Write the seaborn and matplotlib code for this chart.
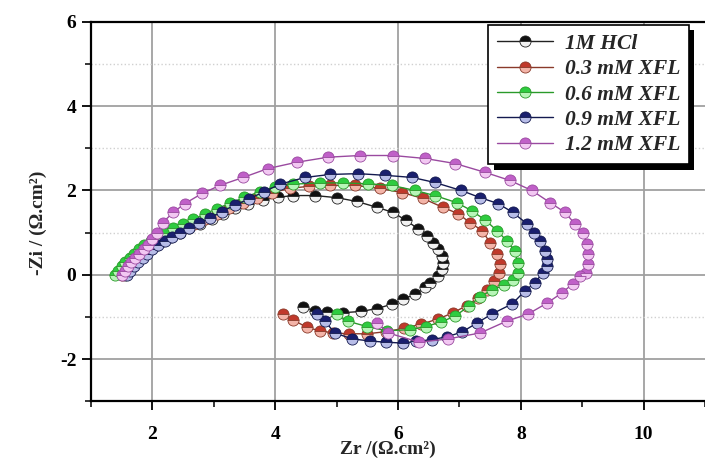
import matplotlib
matplotlib.use("Agg")
import matplotlib.pyplot as plt
import matplotlib.patheffects as pe
from matplotlib.ticker import MultipleLocator
import seaborn as sns
import pandas as pd

# Nyquist data: real part Zr and imaginary part -Zi (ohm.cm^2), in sweep order
zr_hcl = [1.55, 1.60, 1.66, 1.73, 1.80, 1.88, 1.97, 2.07, 2.18, 2.30, 2.45, 2.60, 2.78, 2.97,
          3.15, 3.35, 3.55, 3.80, 4.05, 4.29, 4.65, 5.00, 5.33, 5.66, 5.92, 6.13, 6.33, 6.47,
          6.57, 6.65, 6.72, 6.73, 6.72, 6.65, 6.52, 6.44, 6.28, 6.08, 5.90, 5.66, 5.40, 5.10,
          4.84, 4.65, 4.45]
zi_hcl = [0.00, 0.10, 0.20, 0.30, 0.40, 0.50, 0.60, 0.70, 0.80, 0.90, 1.00, 1.10, 1.20, 1.33,
          1.45, 1.58, 1.68, 1.78, 1.84, 1.88, 1.88, 1.83, 1.74, 1.60, 1.48, 1.29, 1.09, 0.93,
          0.76, 0.62, 0.45, 0.29, 0.14, -0.02, -0.19, -0.30, -0.46, -0.58, -0.70, -0.80, -0.87,
          -0.90, -0.88, -0.86, -0.76]

zr_03 = [1.50, 1.55, 1.61, 1.68, 1.75, 1.83, 1.92, 2.02, 2.12, 2.24, 2.37, 2.52, 2.68, 2.86,
         3.05, 3.25, 3.47, 3.70, 3.95, 4.24, 4.55, 4.89, 5.30, 5.70, 6.07, 6.41, 6.73, 6.98,
         7.17, 7.37, 7.50, 7.61, 7.66, 7.64, 7.57, 7.45, 7.30, 7.12, 6.90, 6.65, 6.38, 6.10,
         5.80, 5.50, 5.20, 4.95, 4.73, 4.52, 4.29, 4.13]
zi_03 = [0.00, 0.10, 0.20, 0.30, 0.40, 0.50, 0.60, 0.70, 0.80, 0.90, 1.00, 1.10, 1.20, 1.32,
         1.45, 1.58, 1.70, 1.82, 1.95, 2.05, 2.10, 2.12, 2.12, 2.05, 1.95, 1.81, 1.60, 1.45,
         1.24, 1.05, 0.76, 0.50, 0.26, 0.05, -0.15, -0.35, -0.55, -0.73, -0.90, -1.05, -1.17,
         -1.27, -1.35, -1.40, -1.40, -1.38, -1.33, -1.25, -1.07, -0.92]

zr_06 = [1.39, 1.44, 1.50, 1.56, 1.63, 1.70, 1.78, 1.87, 1.97, 2.08, 2.20, 2.34, 2.50, 2.67,
         2.85, 3.05, 3.27, 3.50, 3.75, 4.00, 4.29, 4.73, 5.10, 5.51, 5.90, 6.28, 6.60, 6.96,
         7.20, 7.42, 7.61, 7.77, 7.90, 7.95, 7.95, 7.88, 7.72, 7.53, 7.34, 7.15, 6.93, 6.70,
         6.45, 6.20, 5.82, 5.50, 5.18, 5.00]
zi_06 = [0.00, 0.10, 0.20, 0.30, 0.40, 0.50, 0.60, 0.70, 0.80, 0.90, 1.00, 1.10, 1.20, 1.32,
         1.44, 1.57, 1.70, 1.84, 1.97, 2.08, 2.15, 2.18, 2.18, 2.16, 2.12, 2.00, 1.88, 1.71,
         1.52, 1.30, 1.05, 0.81, 0.57, 0.29, 0.05, -0.12, -0.25, -0.36, -0.52, -0.75, -0.98,
         -1.12, -1.23, -1.30, -1.33, -1.23, -1.10, -0.93]

zr_09 = [1.59, 1.64, 1.70, 1.77, 1.84, 1.92, 2.00, 2.10, 2.20, 2.32, 2.45, 2.60, 2.76, 2.94,
         3.13, 3.34, 3.57, 3.82, 4.08, 4.49, 4.89, 5.35, 5.79, 6.23, 6.60, 7.03, 7.34, 7.63,
         7.87, 8.10, 8.22, 8.31, 8.39, 8.43, 8.42, 8.36, 8.23, 8.07, 7.86, 7.53, 7.28, 7.04,
         6.80, 6.55, 6.30, 6.08, 5.80, 5.54, 5.25, 4.97, 4.81, 4.68]
zi_09 = [0.00, 0.10, 0.20, 0.30, 0.40, 0.50, 0.60, 0.70, 0.80, 0.90, 1.00, 1.10, 1.22, 1.35,
         1.50, 1.65, 1.80, 1.97, 2.15, 2.31, 2.38, 2.40, 2.36, 2.31, 2.19, 2.00, 1.83, 1.69,
         1.48, 1.21, 1.00, 0.81, 0.57, 0.38, 0.20, 0.05, -0.19, -0.38, -0.69, -0.93, -1.15,
         -1.36, -1.47, -1.54, -1.58, -1.62, -1.60, -1.57, -1.52, -1.38, -1.10, -0.93]

zr_12 = [1.50, 1.55, 1.60, 1.66, 1.72, 1.79, 1.86, 1.93, 2.00, 2.08, 2.17, 2.34, 2.53, 2.81,
         3.10, 3.48, 3.88, 4.35, 4.86, 5.38, 5.92, 6.44, 6.93, 7.42, 7.82, 8.18, 8.48, 8.72,
         8.88, 9.01, 9.08, 9.10, 9.10, 9.07, 8.96, 8.85, 8.67, 8.43, 8.12, 7.77, 7.34, 6.82,
         6.35, 5.84, 5.66]
zi_12 = [0.00, 0.10, 0.20, 0.30, 0.40, 0.50, 0.60, 0.70, 0.85, 1.00, 1.24, 1.48, 1.69, 1.93,
         2.12, 2.31, 2.52, 2.67, 2.79, 2.83, 2.83, 2.76, 2.64, 2.43, 2.24, 2.00, 1.71, 1.48,
         1.21, 0.98, 0.74, 0.50, 0.26, 0.05, -0.02, -0.21, -0.43, -0.67, -0.93, -1.10, -1.38,
         -1.52, -1.60, -1.38, -1.14]

labels = ["1M HCl", "0.3 mM XFL", "0.6 mM XFL", "0.9 mM XFL", "1.2 mM XFL"]
series_zr = [zr_hcl, zr_03, zr_06, zr_09, zr_12]
series_zi = [zi_hcl, zi_03, zi_06, zi_09, zi_12]

# marker colours: upper half, lower half, connecting line
face_top = ["#111111", "#c0392b", "#2ecc40", "#1a1f6e", "#c060c8"]
face_low = ["#f2f2f2", "#f3b4a8", "#b8f5b8", "#b8bde8", "#f2c8f2"]
line_col = ["#222222", "#8a3a2a", "#2a9a2a", "#141a50", "#9a4aa0"]

sns.set_style("white")
plt.rcParams["font.family"] = ["Liberation Serif", "DejaVu Serif"]
plt.rcParams["axes.unicode_minus"] = False

fig = plt.figure(figsize=(7.05, 4.66), dpi=100)
ax = fig.add_axes([0.129, 0.139, 0.871, 0.814])

frames = []
for lab, xs, ys in zip(labels, series_zr, series_zi):
    frames.append(pd.DataFrame({"Zr": xs, "Zi": ys, "series": lab}))
df = pd.concat(frames, ignore_index=True)

handles = []
for i, lab in enumerate(labels):
    sub = df[df["series"] == lab]
    sns.lineplot(data=sub, x="Zr", y="Zi", sort=False, estimator=None, ax=ax,
                 color=line_col[i], lw=1.0, marker="o", markersize=8,
                 fillstyle="top", markerfacecolor=face_top[i],
                 markerfacecoloralt=face_low[i], markeredgecolor=line_col[i],
                 markeredgewidth=0.6, label=lab, legend=False, zorder=3 + i * 0.1)
    handles.append(ax.get_lines()[-1])

ax.set_xlim(1, 11)
ax.set_ylim(-3, 6)
ax.xaxis.set_major_locator(MultipleLocator(2))
ax.xaxis.set_minor_locator(MultipleLocator(1))
ax.yaxis.set_major_locator(MultipleLocator(2))
ax.yaxis.set_minor_locator(MultipleLocator(1))

ax.grid(which="major", color="#a0a0a0", lw=1.3, ls="-", zorder=0)
ax.yaxis.grid(which="minor", color="#d0d0d0", lw=1.0, ls=":", zorder=0)
ax.set_axisbelow(True)

for side in ["left", "bottom", "top"]:
    ax.spines[side].set_visible(True)
    ax.spines[side].set_color("black")
    ax.spines[side].set_linewidth(1.6)
ax.spines["right"].set_visible(False)

ax.tick_params(which="major", direction="out", length=6.5, width=1.3, colors="black",
               labelsize=14, bottom=True, left=True)
ax.tick_params(which="minor", direction="out", length=4, width=1.1, colors="black",
               bottom=True, left=True)
ax.tick_params(axis="x", which="major", pad=11)
ax.tick_params(axis="y", which="major", pad=4)
for t in ax.get_xticklabels() + ax.get_yticklabels():
    t.set_fontweight("bold")

ax.set_xlabel("Zr /(Ω.cm²)", fontsize=14, fontweight="bold")
ax.set_ylabel("-Zi / (Ω.cm²)", fontsize=14, fontweight="bold")
ax.xaxis.set_label_coords(0.484, -0.105)
ax.yaxis.set_label_coords(-0.072, 0.47)

leg = ax.legend(handles=handles, labels=labels, loc="upper left",
                bbox_to_anchor=(0.647, 0.992), borderaxespad=0, frameon=True,
                fancybox=False, framealpha=1, edgecolor="black", handlelength=2.6,
                handletextpad=0.55, labelspacing=0.25, borderpad=0.4,
                prop={"family": "Liberation Serif", "weight": "bold",
                      "style": "italic", "size": 15.5})
frame = leg.get_frame()
frame.set_linewidth(1.2)
frame.set_path_effects([pe.SimplePatchShadow(offset=(4, -4), shadow_rgbFace="black",
                                             alpha=1.0), pe.Normal()])
leg.set_zorder(10)

fig.savefig("out.png", dpi=100)
